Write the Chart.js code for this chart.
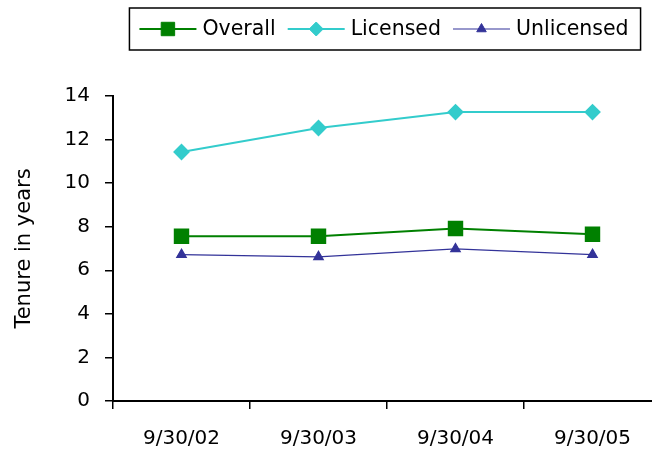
<!DOCTYPE html>
<html lang="en">
  <head>
    <meta charset="UTF-8" />
    <title>Tenure in years</title>
    <script src="https://cdn.jsdelivr.net/npm/chart.js"></script>
    <style>
      html, body {
        margin: 0;
        padding: 0;
        overflow: hidden;
        background: #fff;
      }
      #clip {
        width: 652px;
        height: 452px;
        overflow: hidden;
      }
      #inner {
        width: 662px;
        height: 452px;
      }
      #tenureChart {
        display: block;
        width: 662px !important;
        height: 452px !important;
        max-width: none !important;
      }
    </style>
  </head>
  <body>
    <!-- the plot runs a little past the right edge of the picture -->
    <div id="clip"><div id="inner"><canvas id="tenureChart" width="662" height="452"></canvas></div></div>

    <script>
      const dates = ["9/30/02", "9/30/03", "9/30/04", "9/30/05"];
      const overall = [7.56, 7.56, 7.92, 7.65];
      const licensed = [11.43, 12.53, 13.26, 13.26];
      const unlicensed = [6.72, 6.62, 6.98, 6.72];

      const FONT = '"DejaVu Sans", sans-serif';

      // legend drawn by hand so it can have the framed box
      const boxedLegend = {
        id: "boxedLegend",
        afterDraw(chart) {
          const ctx = chart.ctx;
          const sets = chart.data.datasets;
          const lineLen = 57, gapText = 6, gapItem = 12, y = 29;
          ctx.save();
          ctx.font = "20.5px " + FONT;
          const widths = sets.map((ds) => ctx.measureText(ds.label).width);
          const total =
            widths.reduce((a, b) => a + b, 0) +
            sets.length * (lineLen + gapText) +
            (sets.length - 1) * gapItem;
          const cx = (chart.chartArea.left + chart.chartArea.right) / 2 - 3;
          let x = cx - total / 2;

          ctx.strokeStyle = "#000";
          ctx.lineWidth = 1.5;
          ctx.strokeRect(x - 10, 8, total + 22, 42);

          sets.forEach((ds, i) => {
            ctx.strokeStyle = ds.borderColor;
            ctx.lineWidth = ds.borderWidth;
            ctx.beginPath();
            ctx.moveTo(x, y);
            ctx.lineTo(x + lineLen, y);
            ctx.stroke();
            ctx.fillStyle = ds.pointBackgroundColor;
            ctx.strokeStyle = ds.pointBorderColor;
            ctx.lineWidth = 1;
            Chart.helpers.drawPoint(
              ctx,
              { pointStyle: ds.pointStyle, radius: ds.pointRadius, borderWidth: 1, rotation: 0 },
              x + lineLen / 2,
              y
            );
            ctx.fillStyle = "#000";
            ctx.textBaseline = "middle";
            ctx.textAlign = "left";
            ctx.fillText(ds.label, x + lineLen + gapText, y + 1);
            x += lineLen + gapText + widths[i] + gapItem;
          });
          ctx.restore();
        },
      };

      new Chart(document.getElementById("tenureChart"), {
        type: "line",
        data: {
          labels: dates,
          datasets: [
            {
              label: "Overall",
              data: overall,
              borderColor: "#008000",
              borderWidth: 2,
              pointStyle: "rect",
              pointRadius: 9.5,
              pointBackgroundColor: "#008000",
              pointBorderColor: "#008000",
            },
            {
              label: "Licensed",
              data: licensed,
              borderColor: "#33CCCC",
              borderWidth: 2,
              pointStyle: "rectRot",
              pointRadius: 7,
              pointBackgroundColor: "#33CCCC",
              pointBorderColor: "#33CCCC",
            },
            {
              label: "Unlicensed",
              data: unlicensed,
              borderColor: "#333399",
              borderWidth: 1.2,
              pointStyle: "triangle",
              pointRadius: 5.5,
              pointBackgroundColor: "#333399",
              pointBorderColor: "#333399",
            },
          ],
        },
        options: {
          responsive: false,
          animation: false,
          layout: {
            autoPadding: false,
            padding: { top: 96, right: 1, left: 0, bottom: 0 },
          },
          plugins: {
            legend: { display: false },
            tooltip: { enabled: false },
          },
          scales: {
            x: {
              offset: true,
              grid: {
                offset: true,
                drawOnChartArea: false,
                tickLength: 8,
                color: "#000",
                lineWidth: 1.5,
              },
              border: { color: "#000", width: 2 },
              ticks: {
                color: "#000",
                padding: 18,
                maxRotation: 0,
                font: { family: FONT, size: 20 },
              },
              afterFit(scale) {
                scale.height = 51;
                scale.paddingLeft = 0;
                scale.paddingRight = 0;
              },
            },
            y: {
              min: 0,
              max: 14,
              ticks: {
                stepSize: 2,
                color: "#000",
                padding: 15,
                font: { family: FONT, size: 20 },
              },
              grid: {
                drawOnChartArea: false,
                tickLength: 8,
                color: "#000",
                lineWidth: 1.5,
              },
              border: { color: "#000", width: 2 },
              title: {
                display: true,
                text: "Tenure in years",
                color: "#000",
                padding: { top: 12, bottom: 0 },
                font: { family: FONT, size: 21 },
              },
              afterFit(scale) {
                scale.width = 113;
              },
            },
          },
        },
        plugins: [boxedLegend],
      });
    </script>
  </body>
</html>
